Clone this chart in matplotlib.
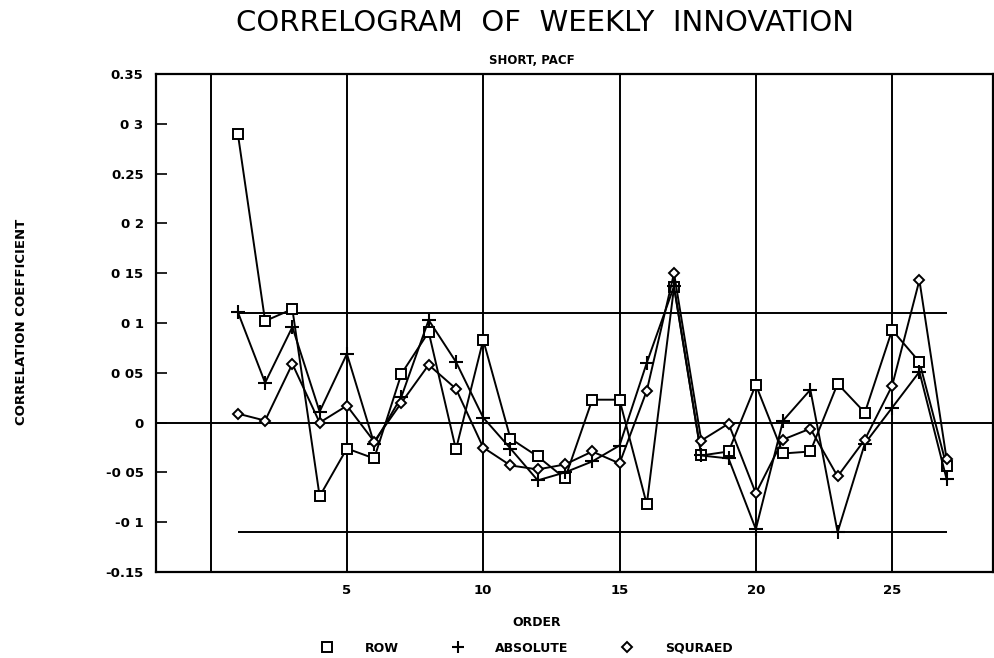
import numpy as np
import matplotlib
matplotlib.use("Agg")
import matplotlib.pyplot as plt
from matplotlib.lines import Line2D

# ---- data ----
order = list(range(1, 28))
row = [0.290, 0.102, 0.114, -0.074, -0.026, -0.036, 0.049, 0.091, -0.027, 0.083,
       -0.016, -0.034, -0.056, 0.023, 0.023, -0.082, 0.136, -0.033, -0.029, 0.038,
       -0.031, -0.029, 0.039, 0.010, 0.093, 0.061, -0.044]
absolute = [0.111, 0.040, 0.096, 0.011, 0.069, -0.021, 0.026, 0.103, 0.061, 0.005,
            -0.026, -0.058, -0.050, -0.039, -0.023, 0.060, 0.137, -0.033, -0.036, -0.107,
            0.002, 0.033, -0.110, -0.021, 0.015, 0.051, -0.057]
squared = [0.009, 0.002, 0.059, 0.000, 0.017, -0.019, 0.020, 0.058, 0.034, -0.025,
           -0.043, -0.047, -0.042, -0.029, -0.041, 0.032, 0.150, -0.018, -0.001, -0.071,
           -0.017, -0.006, -0.054, -0.017, 0.037, 0.143, -0.037]
band = 0.11
band_range = (1, 27)
xgrid = [0, 5, 10, 15, 20, 25]
xticks = [5, 10, 15, 20, 25]
yticks = [-0.15, -0.10, -0.05, 0.0, 0.05, 0.10, 0.15, 0.20, 0.25, 0.30, 0.35]
ytick_labels = ["-0.15", "-0 1", "-0 05", "0", "0 05", "0 1", "0 15", "0 2", "0.25", "0 3", "0.35"]
series_labels = ["ROW", "ABSOLUTE", "SQURAED"]

plt.rcParams['font.family'] = ['DejaVu Sans']

fig = plt.figure(figsize=(9.94, 6.58), dpi=100)
ax = fig.add_axes([0.157, 0.1307, 0.842, 0.7568])
ax.set_xlim(-2, 28.7)
ax.set_ylim(-0.15, 0.35)

lw = 1.4
for xv in xgrid:
    ax.axvline(xv, color='black', lw=lw, zorder=1)
ax.axhline(0, color='black', lw=lw, zorder=1)
ax.hlines([band, -band], band_range[0], band_range[1], color='black', lw=lw, zorder=1)

ax.plot(order, row, color='black', lw=lw, marker='s', ms=7, mfc='white', mec='black',
        mew=1.4, zorder=3)
ax.plot(order, absolute, color='black', lw=lw, marker='+', ms=10, mec='black',
        mew=1.5, zorder=3)
ax.plot(order, squared, color='black', lw=lw, marker='D', ms=5, mfc='white', mec='black',
        mew=1.4, zorder=3)

for s in ax.spines.values():
    s.set_linewidth(1.6)

ax.set_yticks(yticks)
ax.set_yticklabels(ytick_labels, fontsize=9.5, fontweight='bold')
ax.tick_params(axis='y', direction='in', length=8, width=1.2, pad=9)
ax.set_xticks(xticks)
ax.set_xticklabels([str(v) for v in xticks], fontsize=9.5, fontweight='bold')
ax.tick_params(axis='x', length=0, pad=9)

fig.text(0.548, 1 - 23 / 658, "CORRELOGRAM  OF  WEEKLY  INNOVATION", ha='center', va='center',
         fontsize=21)
fig.text(0.535, 1 - 60 / 658, "SHORT, PACF", ha='center', va='center', fontsize=8.5,
         fontweight='bold')
fig.text(0.022, 0.511, "CORRELATION COEFFICIENT", rotation=90, ha='center', va='center',
         fontsize=9.5, fontweight='bold')
fig.text(0.54, 1 - 623 / 658, "ORDER", ha='center', va='center', fontsize=9,
         fontweight='bold')

handles = [
    Line2D([], [], ls='none', marker='s', ms=7, mfc='white', mec='black', mew=1.4),
    Line2D([], [], ls='none', marker='+', ms=9, mec='black', mew=1.5),
    Line2D([], [], ls='none', marker='D', ms=5, mfc='white', mec='black', mew=1.4),
]
fig.legend(handles, series_labels, loc='center', bbox_to_anchor=(0.53, 1 - 648 / 658),
           ncol=3, frameon=False, handlelength=1.0, handletextpad=2.5, columnspacing=4.2,
           prop={'size': 9, 'weight': 'bold'})

fig.savefig("out.png", dpi=100)
